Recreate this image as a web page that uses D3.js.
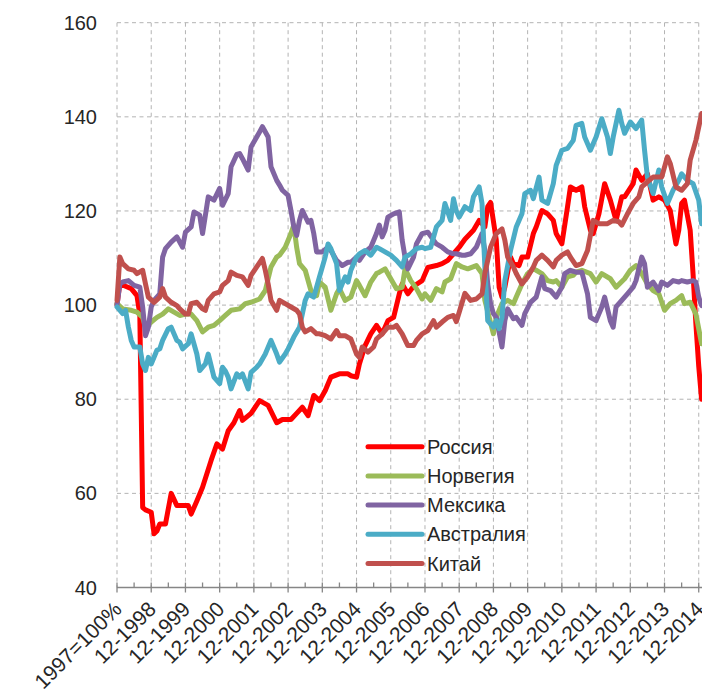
<!DOCTYPE html>
<html>
<head>
<meta charset="utf-8">
<script src="https://cdn.jsdelivr.net/npm/d3@7/dist/d3.min.js"></script>
<style>
  body { margin: 0; background: #fff; }
  svg { display: block; font-family: "Liberation Sans", Arial, sans-serif; }
</style>
</head>
<body>
<script>
// index 1997 = 100%, months counted from Dec 1997
const seriesNames = ['Россия', 'Норвегия', 'Мексика', 'Австралия', 'Китай'];
const seriesColors = ['#ff0000', '#9bbb59', '#8064a2', '#4bacc6', '#c0504d'];
const yTicks = [40, 60, 80, 100, 120, 140, 160];
const xTickLabels = ['1997=100%', '12-1998', '12-1999', '12-2000', '12-2001', '12-2002', '12-2003',
  '12-2004', '12-2005', '12-2006', '12-2007', '12-2008', '12-2009', '12-2010', '12-2011',
  '12-2012', '12-2013', '12-2014'];

// [month, value]
const russia = [[0,100],[1,104.6],[3,104],[5,103.5],[7,102],[8,98],[9,57],[10,56.5],[12,56],[13,51.4],
  [14,52],[15,53.5],[17,53.5],[19,60],[21,57.4],[23,57.4],[25,57.4],[26,55.6],[28,58.4],[30,61.3],
  [33,67],[35,70.5],[37,69.4],[39,73.3],[41,75],[43,77.6],[44,75.5],[47,77],[50,79.7],[53,78.7],
  [56,75],[58,75.7],[61,75.7],[63,77],[65,78.3],[67,76.5],[69,80.8],[71,79.7],[73,81.8],[75,84.7],
  [78,85.4],[81,85.4],[82,85],[84,84.7],[85,87.5],[87,91.4],[89,93.9],[91,95.7],[93,93.9],[95,96.7],
  [97,97.4],[99,102.4],[100,104.5],[102,102.4],[104,104],[107,105.2],[109,108],[112,108.4],[114,108.8],
  [116,109.5],[119,111.6],[120,112.3],[122,114],[125,115.9],[127,118],[129,116.6],[130,120.9],[131,121.8],
  [133,113.8],[134,103.8],[135,101.7],[136,103.8],[138,110.2],[139,108.8],[141,108.4],[142,110.2],
  [144,110.2],[146,115.2],[147,116.6],[149,120.1],[151,119.4],[153,118],[154,115.2],[156,113],
  [158,120.9],[159,125.1],[161,124.4],[163,125.1],[164,120.9],[166,115.9],[167,115.2],[169,119.4],
  [171,125.8],[173,122.3],[175,118],[177,123],[178,123],[181,125.8],[182,128.7],[184,126.5],[186,127.9],
  [188,122.3],[190,123],[192,122.3],[194,120.1],[196,113],[197,115.9],[198,121.6],[199,122.3],
  [201,115.9],[202,106.7],[203,96],[204,87],[205,80]];

const norway = [[0,100.3],[2,99.2],[5,98.9],[7,98.5],[9,97.4],[10,95.3],[12,96.4],[14,97.4],[16,98.1],
  [18,99.2],[20,98.5],[22,97.8],[24,98.1],[26,98.1],[28,96.7],[30,94.3],[32,95.3],[34,95.7],[36,96.7],
  [38,97.8],[40,98.9],[43,99.2],[45,100.3],[47,100.6],[50,101.3],[52,103.1],[54,108.1],[56,110.2],
  [57,110.6],[59,112.3],[61,115.2],[62,117],[63,112.3],[64,108.8],[66,107.4],[68,103.1],[70,102],
  [71,104.9],[73,103.8],[75,98.9],[77,102.4],[78,103.5],[80,101],[82,101.7],[84,105.2],[85,104.2],
  [87,102],[89,104.9],[91,106.7],[92,107],[94,107.7],[96,105.6],[98,103.5],[100,103.8],[101,107.7],
  [103,105.2],[105,103.5],[107,101.3],[108,102.4],[110,101],[112,103.5],[114,102.8],[115,104.9],
  [117,105.6],[119,108.8],[121,108.1],[123,107.7],[126,108.4],[128,106.7],[129,101],[132,93.9],
  [133,97.4],[135,100.3],[137,101],[139,100.3],[140,101.7],[142,104.5],[144,106.7],[146,107.7],
  [147,107.4],[149,106.7],[151,105.2],[153,104.9],[154,105.2],[156,103.8],[158,106],[160,106.3],
  [161,107],[163,107.4],[166,106.7],[168,104.9],[170,106.7],[173,105.6],[175,103.8],[178,105.6],
  [180,107.4],[182,108.4],[184,106.7],[186,104.5],[188,103.1],[190,102.4],[192,98.9],[194,100.3],
  [196,101],[198,102],[199,100.3],[201,100.6],[203,98.1],[205,91.8]];

const mexico = [[0,100],[1,104.5],[2,104.9],[4,105.2],[6,104.2],[8,103.8],[9,99.6],[10,93.5],[11,95.3],
  [12,99.6],[13,101],[15,102.4],[16,110.2],[17,112],[19,113.4],[21,114.5],[23,112.3],[24,115.5],
  [26,116.6],[27,119.8],[29,119.1],[30,115.2],[32,123],[34,122.3],[36,124.8],[37,121.2],[39,123.7],
  [40,129.4],[42,132],[43,132.2],[44,131.1],[46,128.7],[47,133.6],[50,136.8],[51,137.9],[53,135.7],
  [54,129.4],[56,126.5],[57,125.5],[58,124.4],[60,123.3],[61,120.1],[62,116.6],[63,114.8],[64,118],
  [65,120.1],[67,117.6],[68,118],[69,115.2],[70,111.3],[72,111.3],[74,112.3],[75,111.6],[77,109.5],
  [79,108.4],[81,109.1],[82,109.1],[84,110.2],[85,109.5],[87,111.3],[89,112.3],[91,115.2],[92,117],
  [93,114.5],[94,115.9],[95,118.7],[97,119.4],[99,119.8],[100,113.8],[101,110.2],[102,107.7],
  [104,110.2],[105,113],[107,115.2],[109,115.5],[111,113.8],[112,113],[114,112.3],[116,111.3],
  [118,110.9],[119,110.9],[121,110.6],[122,110.6],[124,110.9],[126,112.3],[128,115.2],[129,111.6],
  [130,104.5],[131,100.3],[132,98.2],[133,97.4],[135,91.1],[136,96.7],[137,99.2],[139,97.1],[140,97.4],
  [142,95.7],[143,98.2],[145,100.6],[147,101.7],[149,106],[150,103.5],[152,103.1],[154,101.7],
  [156,103.8],[157,106.7],[159,107.4],[161,107],[163,107],[165,102.4],[166,97.4],[168,96.7],[170,99.6],
  [171,101.7],[173,96.7],[174,95.3],[175,99.6],[177,101],[179,102.4],[181,103.8],[182,105.2],
  [184,110.2],[185,108.8],[186,103.8],[188,104.9],[190,103.1],[191,104.9],[193,104.2],[195,105.2],
  [197,104.9],[198,105.2],[200,104.9],[202,105.2],[203,104.9],[204,101.7],[205,99.9]];

const australia = [[0,99.6],[2,98.2],[3,98.9],[4,95.3],[5,92.5],[6,91.1],[8,91.1],[9,87.5],[10,86.1],
  [11,88.9],[12,87.5],[14,90.4],[15,90.7],[16,92.5],[18,95],[19,95.3],[21,92.5],[22,92.1],[23,90.7],
  [25,91.8],[26,93.9],[28,89.6],[29,86.1],[31,87.5],[32,89.6],[34,84.7],[36,83.3],[37,86.8],[38,86],
  [39,84.7],[40,82.2],[42,85.4],[43,84.7],[44,85.4],[46,82.2],[47,85.7],[49,86.8],[50,87.5],[52,89.6],
  [54,92.5],[56,89.6],[57,87.9],[59,89.6],[60,90.7],[62,93.2],[64,95.3],[66,101],[67,102.4],[69,101.7],
  [71,106],[73,110.2],[74,113],[75,112],[77,108.8],[78,103.1],[80,106],[81,104.9],[82,107.4],
  [84,110.2],[85,110.9],[87,111.6],[89,110.6],[91,112.3],[92,112],[94,111.3],[96,110.6],[98,109.5],
  [100,108.1],[101,110.2],[103,110.9],[105,112],[107,112.3],[108,112],[110,112.3],[112,116.6],
  [114,118],[115,121.6],[117,118],[118,122.6],[119,120],[120,118.7],[122,120.9],[124,120.1],[125,123],
  [127,125.1],[128,121.6],[129,108.1],[130,96.7],[132,95.3],[133,96.7],[134,95],[135,97.4],[136,105.2],
  [138,111.6],[140,116.6],[142,119.4],[143,123.7],[145,124.4],[146,122.6],[148,127.2],[149,122.3],
  [151,121.6],[153,125.8],[154,129.7],[156,132.9],[158,133.3],[160,135],[161,138.2],[163,138.6],
  [164,135.7],[166,132.9],[168,135.7],[170,139.6],[172,135.7],[173,132.2],[174,135.7],[176,141.4],
  [177,138.6],[178,136.5],[180,138.9],[182,137.5],[184,139.3],[185,132.9],[186,127.2],[188,123.7],
  [190,128.7],[191,125.1],[193,121.6],[195,124.4],[197,126.5],[198,127.9],[200,126.5],[202,125.8],
  [204,122.3],[205,117.3]];

const china = [[0,101],[1,110.2],[2,108.8],[4,107.7],[6,107.4],[7,106.7],[9,107.4],[10,104.5],[11,101.7],
  [13,100.6],[15,101.7],[16,103.5],[17,101.7],[19,100.6],[21,99.9],[22,99.2],[24,98.1],[25,98.1],
  [26,100.3],[28,100.6],[30,99.2],[31,98.9],[32,101],[34,102.4],[36,102.8],[37,104.2],[39,105.2],
  [40,107],[42,106.3],[44,106],[46,104.2],[47,106.3],[49,108.1],[51,109.9],[52,107.4],[53,104.5],
  [54,101],[56,98.9],[57,101],[59,100.3],[61,99.6],[63,98.9],[64,98.1],[65,95.3],[66,94.3],[68,95],
  [70,93.9],[71,93.9],[73,93.5],[75,92.8],[77,94.6],[78,93.5],[80,93.5],[82,92.8],[84,89.6],[85,88.9],
  [86,91.1],[88,90],[90,91.1],[91,92.8],[93,93.9],[95,95.3],[97,95.3],[98,95.7],[100,93.9],[102,91.4],
  [104,91.4],[105,92.5],[107,93.9],[109,94.6],[111,96.7],[112,95.3],[114,96.4],[116,97.4],[118,97.8],
  [119,96.5],[120,98.5],[122,102.5],[124,101],[126,101.3],[128,102.4],[129,106.7],[131,112.3],
  [133,115.2],[135,116.2],[136,113.8],[137,110.2],[139,108.1],[140,106.7],[142,104.5],[144,106],
  [146,108.1],[147,109.5],[149,110.6],[151,109.5],[153,108.1],[154,109.5],[156,110.6],[158,111.3],
  [159,110.2],[161,108.4],[163,108.8],[165,111.6],[167,118],[169,117.3],[170,117.3],[172,117.3],
  [174,118],[176,117.7],[177,117],[179,119.4],[181,121.6],[183,123],[184,125.1],[186,126.2],[188,127.2],
  [190,127.2],[191,127.2],[193,131.5],[194,130.1],[196,125.1],[198,124.4],[200,125.8],[201,130.8],
  [203,135],[205,140.7]];

const allSeries = [russia, norway, mexico, australia, china];

const w = 702, h = 689;
const plotLeft = 117, plotTop = 22.7, plotBottom = 587.5;

const svg = d3.select('body').append('svg').attr('width', w).attr('height', h);

const x = d3.scaleLinear().domain([0, 204]).range([plotLeft, plotLeft + 17 * 34.22]);
const y = d3.scaleLinear().domain([40, 160]).range([plotBottom, plotTop]);

// grid
const grid = svg.append('g');
grid.selectAll('line.h')
  .data(yTicks.filter(d => d > 40))
  .join('line')
  .attr('class', 'h')
  .attr('x1', plotLeft).attr('x2', w)
  .attr('y1', d => y(d)).attr('y2', d => y(d))
  .attr('stroke', '#b3b3b3').attr('stroke-dasharray', '4,3.5');
grid.selectAll('line.v')
  .data(xTickLabels.map((d, i) => i * 12))
  .join('line')
  .attr('class', 'v')
  .attr('x1', d => x(d)).attr('x2', d => x(d))
  .attr('y1', plotTop).attr('y2', plotBottom)
  .attr('stroke', '#b3b3b3').attr('stroke-dasharray', '4,3.5');

// y labels
svg.append('g').selectAll('text')
  .data(yTicks)
  .join('text')
  .attr('x', 97).attr('y', d => y(d)).attr('dy', '0.35em')
  .attr('text-anchor', 'end')
  .style('font-size', '20px').style('fill', '#262626')
  .text(d => d);

// x axis
const xAxis = svg.append('g');
xAxis.append('line')
  .attr('x1', plotLeft).attr('x2', w).attr('y1', plotBottom).attr('y2', plotBottom)
  .attr('stroke', '#868686').attr('stroke-width', 1.3);
xAxis.selectAll('line.major')
  .data(xTickLabels.map((d, i) => i * 12))
  .join('line')
  .attr('class', 'major')
  .attr('x1', d => x(d)).attr('x2', d => x(d))
  .attr('y1', plotBottom - 5).attr('y2', plotBottom + 5)
  .attr('stroke', '#868686').attr('stroke-width', 1.3);
xAxis.selectAll('line.minor')
  .data(xTickLabels.map((d, i) => i * 12 + 6))
  .join('line')
  .attr('class', 'minor')
  .attr('x1', d => x(d)).attr('x2', d => x(d))
  .attr('y1', plotBottom - 5).attr('y2', plotBottom)
  .attr('stroke', '#868686').attr('stroke-width', 1.3);
xAxis.selectAll('text')
  .data(xTickLabels)
  .join('text')
  .attr('transform', (d, i) => 'translate(' + (x(i * 12) + 6) + ',' + (plotBottom + 23) + ') rotate(-45)')
  .attr('text-anchor', 'end')
  .style('font-size', '21px').style('fill', '#262626')
  .text(d => d);

// lines
const line = d3.line().x(d => x(d[0])).y(d => y(d[1]));
svg.append('g').selectAll('path')
  .data(allSeries)
  .join('path')
  .attr('d', line)
  .attr('fill', 'none')
  .attr('stroke', (d, i) => seriesColors[i])
  .attr('stroke-width', 5)
  .attr('stroke-linejoin', 'round')
  .attr('stroke-linecap', 'round');

// legend
const legend = svg.append('g');
const rows = legend.selectAll('g')
  .data(seriesNames)
  .join('g')
  .attr('transform', (d, i) => 'translate(0,' + (446.7 + i * 29.2) + ')');
rows.append('line')
  .attr('x1', 368).attr('x2', 422).attr('y1', 0).attr('y2', 0)
  .attr('stroke', (d, i) => seriesColors[i])
  .attr('stroke-width', 5).attr('stroke-linecap', 'round');
rows.append('text')
  .attr('x', 427).attr('y', 0).attr('dy', '0.35em')
  .style('font-size', '20px').style('fill', '#262626')
  .text(d => d);
</script>
</body>
</html>
